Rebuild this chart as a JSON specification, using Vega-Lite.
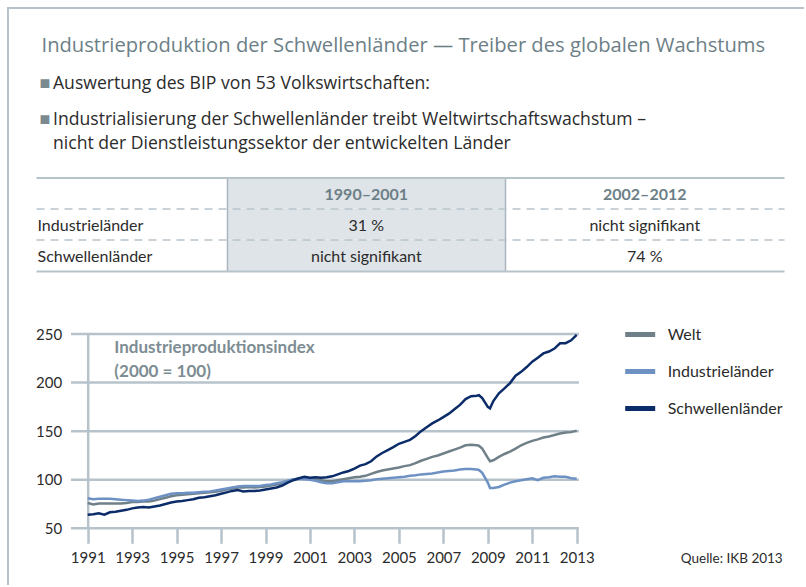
{
  "$schema": "https://vega.github.io/schema/vega-lite/v6.json",
  "padding": {"left": 7, "top": 7, "right": 0, "bottom": 0},
  "background": "white",
  "config": {"view": {"stroke": null}, "font": "Lato"},
  "spacing": 0,
  "resolve": {"legend": {"color": "independent"}},
  "vconcat": [
    {"width": 797, "height": 2, "data": {"values": [{"rahmen": "oben"}]}, "mark": {"type": "rect", "color": "#b7c3cb"}, "encoding": {}},
    {
      "spacing": 26,
      "resolve": {"legend": {"color": "independent"}},
      "hconcat": [
        {"width": 2, "height": 576, "data": {"values": [{"rahmen": "links"}]}, "mark": {"type": "rect", "color": "#b7c3cb"}, "encoding": {}},
        {
          "columns": 1, "spacing": 46,
          "resolve": {"legend": {"color": "independent"}},
          "concat": [
            {
              "columns": 1, "spacing": 18.5,
              "concat": [
                {
                  "width": 1, "height": 150,
                  "data": {"values": [
                    {"zeile": "t", "typ": "titel", "text": "Industrieproduktion der Schwellenländer — Treiber des globalen Wachstums"},
                    {"zeile": "b1", "typ": "punkt", "text": ["Auswertung des BIP von 53 Volkswirtschaften:"]},
                    {"zeile": "b2", "typ": "punkt", "text": ["Industrialisierung der Schwellenländer treibt Weltwirtschaftswachstum –", "nicht der Dienstleistungssektor der entwickelten Länder"]}
                  ]},
                  "encoding": {"y": {"field": "zeile", "type": "nominal", "axis": null, "scale": {"type": "band", "domain": ["t", "b1", "b2"], "paddingInner": 0, "paddingOuter": 0.5548, "align": 0.623}}},
                  "layer": [
                    {"transform": [{"filter": "datum.typ === 'titel'"}], "mark": {"type": "text", "align": "left", "baseline": "alphabetic", "dx": 5, "fontSize": 20.2, "font": "Open Sans", "color": "#6c7f87"}, "encoding": {"text": {"field": "text"}}},
                    {"transform": [{"filter": "datum.typ === 'punkt'"}], "mark": {"type": "text", "align": "left", "baseline": "alphabetic", "dx": 3, "dy": 0, "fontSize": 18, "color": "#7b8a90", "text": "■"}},
                    {"transform": [{"filter": "datum.typ === 'punkt'"}], "mark": {"type": "text", "align": "left", "baseline": "alphabetic", "dx": 16.5, "fontSize": 17.6, "font": "Open Sans", "lineHeight": 23.5, "color": "#2b2b2b"}, "encoding": {"text": {"field": "text"}}}
                  ]
                },
                {
                  "width": 748, "height": 93.4,
                  "data": {"values": [
                    {"zeile": "kopf", "spalte": "1990–2001", "wert": "1990–2001"},
                    {"zeile": "kopf", "spalte": "2002–2012", "wert": "2002–2012"},
                    {"zeile": "Industrieländer", "spalte": "1990–2001", "wert": "31 %"},
                    {"zeile": "Industrieländer", "spalte": "2002–2012", "wert": "nicht signifikant"},
                    {"zeile": "Schwellenländer", "spalte": "1990–2001", "wert": "nicht signifikant"},
                    {"zeile": "Schwellenländer", "spalte": "2002–2012", "wert": "74 %"}
                  ]},
                  "encoding": {
                    "x": {"field": "spalte", "type": "nominal", "scale": {"domain": ["1990–2001", "2002–2012"], "paddingInner": 0, "paddingOuter": 0.3431, "align": 1},
                      "axis": {"orient": "bottom", "title": null, "labels": false, "ticks": false, "domain": true, "domainColor": "#b7c3cb", "domainWidth": 2, "grid": true, "gridColor": "#aab5bd", "gridWidth": 1.5, "bandPosition": 0, "zindex": 1}},
                    "y": {"field": "zeile", "type": "nominal", "scale": {"domain": ["kopf", "Industrieländer", "Schwellenländer"], "paddingInner": 0, "paddingOuter": 0},
                      "axis": {"title": null, "ticks": false, "domain": false, "bandPosition": 0, "labelAlign": "left", "labelBaseline": "middle", "labelPadding": -1, "labelOffset": 1.5, "labelFontSize": 16, "labelColor": "#2b2b2b",
                        "labelExpr": "datum.value === 'kopf' ? '' : datum.value", "grid": true, "gridColor": "#b7c3cb",
                        "gridWidth": {"condition": {"test": "datum.value === 'kopf'", "value": 2}, "value": 1.5},
                        "gridDash": {"condition": {"test": "datum.value === 'kopf'", "value": []}, "value": [8, 6]}, "zindex": 1}}
                  },
                  "layer": [
                    {"transform": [{"filter": "datum.spalte === '1990–2001'"}], "mark": {"type": "rect", "color": "#dfe4e8"}},
                    {"transform": [{"filter": "datum.zeile === 'kopf'"}], "mark": {"type": "text", "fontSize": 16, "fontWeight": "bold", "color": "#6c7f87", "dy": 1.5}, "encoding": {"text": {"field": "wert"}}},
                    {"transform": [{"filter": "datum.zeile !== 'kopf'"}], "mark": {"type": "text", "fontSize": 16, "color": "#2b2b2b", "dy": 1.5}, "encoding": {"text": {"field": "wert"}}}
                  ]
                }
              ]
            },
            {
              "width": 540.7, "height": 194.3,
              "title": {"text": "Quelle: IKB 2013", "orient": "bottom", "anchor": "end", "frame": "group", "dx": 206, "dy": -13, "offset": 0, "fontSize": 13.5, "fontWeight": "normal", "color": "#2b2b2b", "baseline": "top"},
              "data": {"values": [
                {"jahr": 1991.0, "Welt": 76, "Industrieländer": 81, "Schwellenländer": 64},
                {"jahr": 1991.25, "Welt": 74.5, "Industrieländer": 80, "Schwellenländer": 64.5},
                {"jahr": 1991.5, "Welt": 75.5, "Industrieländer": 80.5, "Schwellenländer": 65.5},
                {"jahr": 1991.75, "Welt": 75.5, "Industrieländer": 80.5, "Schwellenländer": 64},
                {"jahr": 1992.0, "Welt": 75.5, "Industrieländer": 80.5, "Schwellenländer": 66.5},
                {"jahr": 1992.25, "Welt": 75.5, "Industrieländer": 80, "Schwellenländer": 67},
                {"jahr": 1992.5, "Welt": 75.5, "Industrieländer": 79.5, "Schwellenländer": 68},
                {"jahr": 1992.75, "Welt": 76, "Industrieländer": 79, "Schwellenländer": 69},
                {"jahr": 1993.0, "Welt": 77, "Industrieländer": 78.5, "Schwellenländer": 70.5},
                {"jahr": 1993.25, "Welt": 77, "Industrieländer": 78, "Schwellenländer": 71.5},
                {"jahr": 1993.5, "Welt": 77.5, "Industrieländer": 78.5, "Schwellenländer": 72},
                {"jahr": 1993.75, "Welt": 77.5, "Industrieländer": 79.5, "Schwellenländer": 71.5},
                {"jahr": 1994.0, "Welt": 78.5, "Industrieländer": 81, "Schwellenländer": 72.5},
                {"jahr": 1994.25, "Welt": 80, "Industrieländer": 82.5, "Schwellenländer": 73.5},
                {"jahr": 1994.5, "Welt": 81.5, "Industrieländer": 84, "Schwellenländer": 75},
                {"jahr": 1994.75, "Welt": 83, "Industrieländer": 85.5, "Schwellenländer": 76.5},
                {"jahr": 1995.0, "Welt": 84, "Industrieländer": 86, "Schwellenländer": 77.5},
                {"jahr": 1995.25, "Welt": 84.5, "Industrieländer": 86, "Schwellenländer": 78},
                {"jahr": 1995.5, "Welt": 85, "Industrieländer": 86.5, "Schwellenländer": 79},
                {"jahr": 1995.75, "Welt": 85.5, "Industrieländer": 86.5, "Schwellenländer": 80},
                {"jahr": 1996.0, "Welt": 86, "Industrieländer": 87, "Schwellenländer": 81.5},
                {"jahr": 1996.25, "Welt": 86.5, "Industrieländer": 87.5, "Schwellenländer": 82},
                {"jahr": 1996.5, "Welt": 87, "Industrieländer": 88, "Schwellenländer": 83},
                {"jahr": 1996.75, "Welt": 87.5, "Industrieländer": 89, "Schwellenländer": 84},
                {"jahr": 1997.0, "Welt": 88.5, "Industrieländer": 90, "Schwellenländer": 85.5},
                {"jahr": 1997.25, "Welt": 90, "Industrieländer": 91, "Schwellenländer": 87},
                {"jahr": 1997.5, "Welt": 91, "Industrieländer": 92, "Schwellenländer": 88.5},
                {"jahr": 1997.75, "Welt": 92, "Industrieländer": 93, "Schwellenländer": 89.5},
                {"jahr": 1998.0, "Welt": 92, "Industrieländer": 93.5, "Schwellenländer": 88},
                {"jahr": 1998.25, "Welt": 92.5, "Industrieländer": 93.5, "Schwellenländer": 88.5},
                {"jahr": 1998.5, "Welt": 92, "Industrieländer": 93.5, "Schwellenländer": 88.5},
                {"jahr": 1998.75, "Welt": 92.5, "Industrieländer": 93.5, "Schwellenländer": 89},
                {"jahr": 1999.0, "Welt": 93, "Industrieländer": 94.5, "Schwellenländer": 90},
                {"jahr": 1999.25, "Welt": 94, "Industrieländer": 95, "Schwellenländer": 91},
                {"jahr": 1999.5, "Welt": 95, "Industrieländer": 96.5, "Schwellenländer": 92},
                {"jahr": 1999.75, "Welt": 96.5, "Industrieländer": 97.5, "Schwellenländer": 94},
                {"jahr": 2000.0, "Welt": 98.5, "Industrieländer": 99, "Schwellenländer": 97},
                {"jahr": 2000.25, "Welt": 100, "Industrieländer": 100.5, "Schwellenländer": 99.5},
                {"jahr": 2000.5, "Welt": 101, "Industrieländer": 101, "Schwellenländer": 101.5},
                {"jahr": 2000.75, "Welt": 101.5, "Industrieländer": 100.5, "Schwellenländer": 103},
                {"jahr": 2001.0, "Welt": 101, "Industrieländer": 100, "Schwellenländer": 102},
                {"jahr": 2001.25, "Welt": 100, "Industrieländer": 99, "Schwellenländer": 102.5},
                {"jahr": 2001.5, "Welt": 99.5, "Industrieländer": 97.5, "Schwellenländer": 102},
                {"jahr": 2001.75, "Welt": 98.5, "Industrieländer": 96.5, "Schwellenländer": 102.5},
                {"jahr": 2002.0, "Welt": 98.5, "Industrieländer": 96.5, "Schwellenländer": 103.5},
                {"jahr": 2002.25, "Welt": 99.5, "Industrieländer": 97.5, "Schwellenländer": 105.5},
                {"jahr": 2002.5, "Welt": 100.5, "Industrieländer": 98.5, "Schwellenländer": 107.5},
                {"jahr": 2002.75, "Welt": 101.5, "Industrieländer": 98.5, "Schwellenländer": 109},
                {"jahr": 2003.0, "Welt": 102.5, "Industrieländer": 98.5, "Schwellenländer": 111.5},
                {"jahr": 2003.25, "Welt": 103, "Industrieländer": 98.5, "Schwellenländer": 114.5},
                {"jahr": 2003.5, "Welt": 104, "Industrieländer": 99, "Schwellenländer": 116},
                {"jahr": 2003.75, "Welt": 106, "Industrieländer": 99.5, "Schwellenländer": 119},
                {"jahr": 2004.0, "Welt": 108, "Industrieländer": 100.5, "Schwellenländer": 124},
                {"jahr": 2004.25, "Welt": 109.5, "Industrieländer": 101, "Schwellenländer": 127.5},
                {"jahr": 2004.5, "Welt": 110.5, "Industrieländer": 101.5, "Schwellenländer": 130.5},
                {"jahr": 2004.75, "Welt": 111.5, "Industrieländer": 102, "Schwellenländer": 133.5},
                {"jahr": 2005.0, "Welt": 112.5, "Industrieländer": 102.5, "Schwellenländer": 137},
                {"jahr": 2005.25, "Welt": 114, "Industrieländer": 103, "Schwellenländer": 139},
                {"jahr": 2005.5, "Welt": 115, "Industrieländer": 104, "Schwellenländer": 141},
                {"jahr": 2005.75, "Welt": 117, "Industrieländer": 104.5, "Schwellenländer": 145},
                {"jahr": 2006.0, "Welt": 119.5, "Industrieländer": 105.5, "Schwellenländer": 150},
                {"jahr": 2006.25, "Welt": 121.5, "Industrieländer": 106, "Schwellenländer": 154},
                {"jahr": 2006.5, "Welt": 123.5, "Industrieländer": 106.5, "Schwellenländer": 158},
                {"jahr": 2006.75, "Welt": 125, "Industrieländer": 107.5, "Schwellenländer": 161},
                {"jahr": 2007.0, "Welt": 127, "Industrieländer": 108.5, "Schwellenländer": 164.5},
                {"jahr": 2007.25, "Welt": 129, "Industrieländer": 109, "Schwellenländer": 168},
                {"jahr": 2007.5, "Welt": 131, "Industrieländer": 109.5, "Schwellenländer": 172.5},
                {"jahr": 2007.75, "Welt": 133, "Industrieländer": 110.5, "Schwellenländer": 177},
                {"jahr": 2008.0, "Welt": 135.5, "Industrieländer": 111, "Schwellenländer": 183},
                {"jahr": 2008.25, "Welt": 136, "Industrieländer": 111, "Schwellenländer": 186},
                {"jahr": 2008.5, "Welt": 135.5, "Industrieländer": 110.5, "Schwellenländer": 186.5},
                {"jahr": 2008.6, "Welt": 135, "Industrieländer": 110, "Schwellenländer": 187},
                {"jahr": 2008.75, "Welt": 132, "Industrieländer": 107, "Schwellenländer": 184},
                {"jahr": 2009.0, "Welt": 122.5, "Industrieländer": 97, "Schwellenländer": 175},
                {"jahr": 2009.1, "Welt": 119, "Industrieländer": 91.5, "Schwellenländer": 173.5},
                {"jahr": 2009.25, "Welt": 120, "Industrieländer": 91.5, "Schwellenländer": 181},
                {"jahr": 2009.5, "Welt": 123.5, "Industrieländer": 92.5, "Schwellenländer": 189},
                {"jahr": 2009.75, "Welt": 126.5, "Industrieländer": 95, "Schwellenländer": 194},
                {"jahr": 2010.0, "Welt": 129, "Industrieländer": 97, "Schwellenländer": 199.5},
                {"jahr": 2010.25, "Welt": 132, "Industrieländer": 98.5, "Schwellenländer": 207},
                {"jahr": 2010.5, "Welt": 135.5, "Industrieländer": 99.5, "Schwellenländer": 211},
                {"jahr": 2010.75, "Welt": 138, "Industrieländer": 100.5, "Schwellenländer": 216},
                {"jahr": 2011.0, "Welt": 140, "Industrieländer": 101.5, "Schwellenländer": 221.5},
                {"jahr": 2011.25, "Welt": 141.5, "Industrieländer": 99.5, "Schwellenländer": 225.5},
                {"jahr": 2011.5, "Welt": 143.5, "Industrieländer": 102, "Schwellenländer": 230},
                {"jahr": 2011.75, "Welt": 144.5, "Industrieländer": 102.5, "Schwellenländer": 232},
                {"jahr": 2012.0, "Welt": 146, "Industrieländer": 103.5, "Schwellenländer": 235},
                {"jahr": 2012.25, "Welt": 147.5, "Industrieländer": 103, "Schwellenländer": 240.5},
                {"jahr": 2012.5, "Welt": 148.5, "Industrieländer": 103, "Schwellenländer": 240.5},
                {"jahr": 2012.75, "Welt": 149, "Industrieländer": 101.5, "Schwellenländer": 243.5},
                {"jahr": 2013.0, "Welt": 150.5, "Industrieländer": 101, "Schwellenländer": 249}
              ]},
              "layer": [
                {
                  "data": {"values": [{"raster": 50}, {"raster": 100}, {"raster": 150}, {"raster": 200}, {"raster": 250}]},
                  "mark": {"type": "rule", "color": "#b7c3cb", "strokeWidth": 2.5},
                  "encoding": {"x": {"datum": 1990.249}, "x2": {"datum": 2013.1}, "y": {"field": "raster", "type": "quantitative"}}
                },
                {
                  "transform": [{"fold": ["Welt", "Industrieländer", "Schwellenländer"], "as": ["reihe", "wert"]}],
                  "mark": {"type": "line", "strokeWidth": 2.5},
                  "encoding": {
                    "x": {"field": "jahr", "type": "quantitative", "scale": {"domain": [1988.674, 2013], "nice": false, "zero": false},
                      "axis": {"values": [1991, 1993, 1995, 1997, 1999, 2001, 2003, 2005, 2007, 2009, 2011, 2013], "format": "d", "title": null, "grid": false, "domain": false, "ticks": true, "tickSize": 15, "tickWidth": 2.5, "tickColor": "#b7c3cb", "labelPadding": 7, "labelFontSize": 15, "labelColor": "#2b2b2b", "labelFlush": false}},
                    "y": {"field": "wert", "type": "quantitative", "scale": {"domain": [50, 250], "nice": false, "zero": false},
                      "axis": {"values": [50, 100, 150, 200, 250], "title": null, "grid": false, "offset": -51.7, "domain": true, "domainColor": "#b7c3cb", "domainWidth": 2.5, "ticks": false, "labelPadding": 26, "labelFontSize": 15, "labelColor": "#2b2b2b"}},
                    "color": {"field": "reihe", "type": "nominal", "scale": {"domain": ["Welt", "Industrieländer", "Schwellenländer"], "range": ["#6f8088", "#6e91c4", "#0b2c68"]},
                      "legend": {"orient": "none", "legendX": 586.7, "legendY": -17, "direction": "vertical", "title": null, "symbolType": "stroke", "symbolSize": 900, "symbolStrokeWidth": 5, "labelFontSize": 16, "labelColor": "#2b2b2b", "labelOffset": 10, "rowPadding": 9, "padding": 0}}
                  }
                },
                {
                  "data": {"values": [{"beschriftung": "Industrieproduktionsindex"}]},
                  "mark": {"type": "text", "text": ["Industrieproduktionsindex", "(2000 = 100)"], "align": "left", "baseline": "middle", "fontSize": 17, "fontWeight": "bold", "color": "#7d8d93", "lineHeight": 23.4},
                  "encoding": {"x": {"datum": 1992.2}, "y": {"datum": 235.4}}
                }
              ]
            }
          ]
        }
      ]
    }
  ]
}
